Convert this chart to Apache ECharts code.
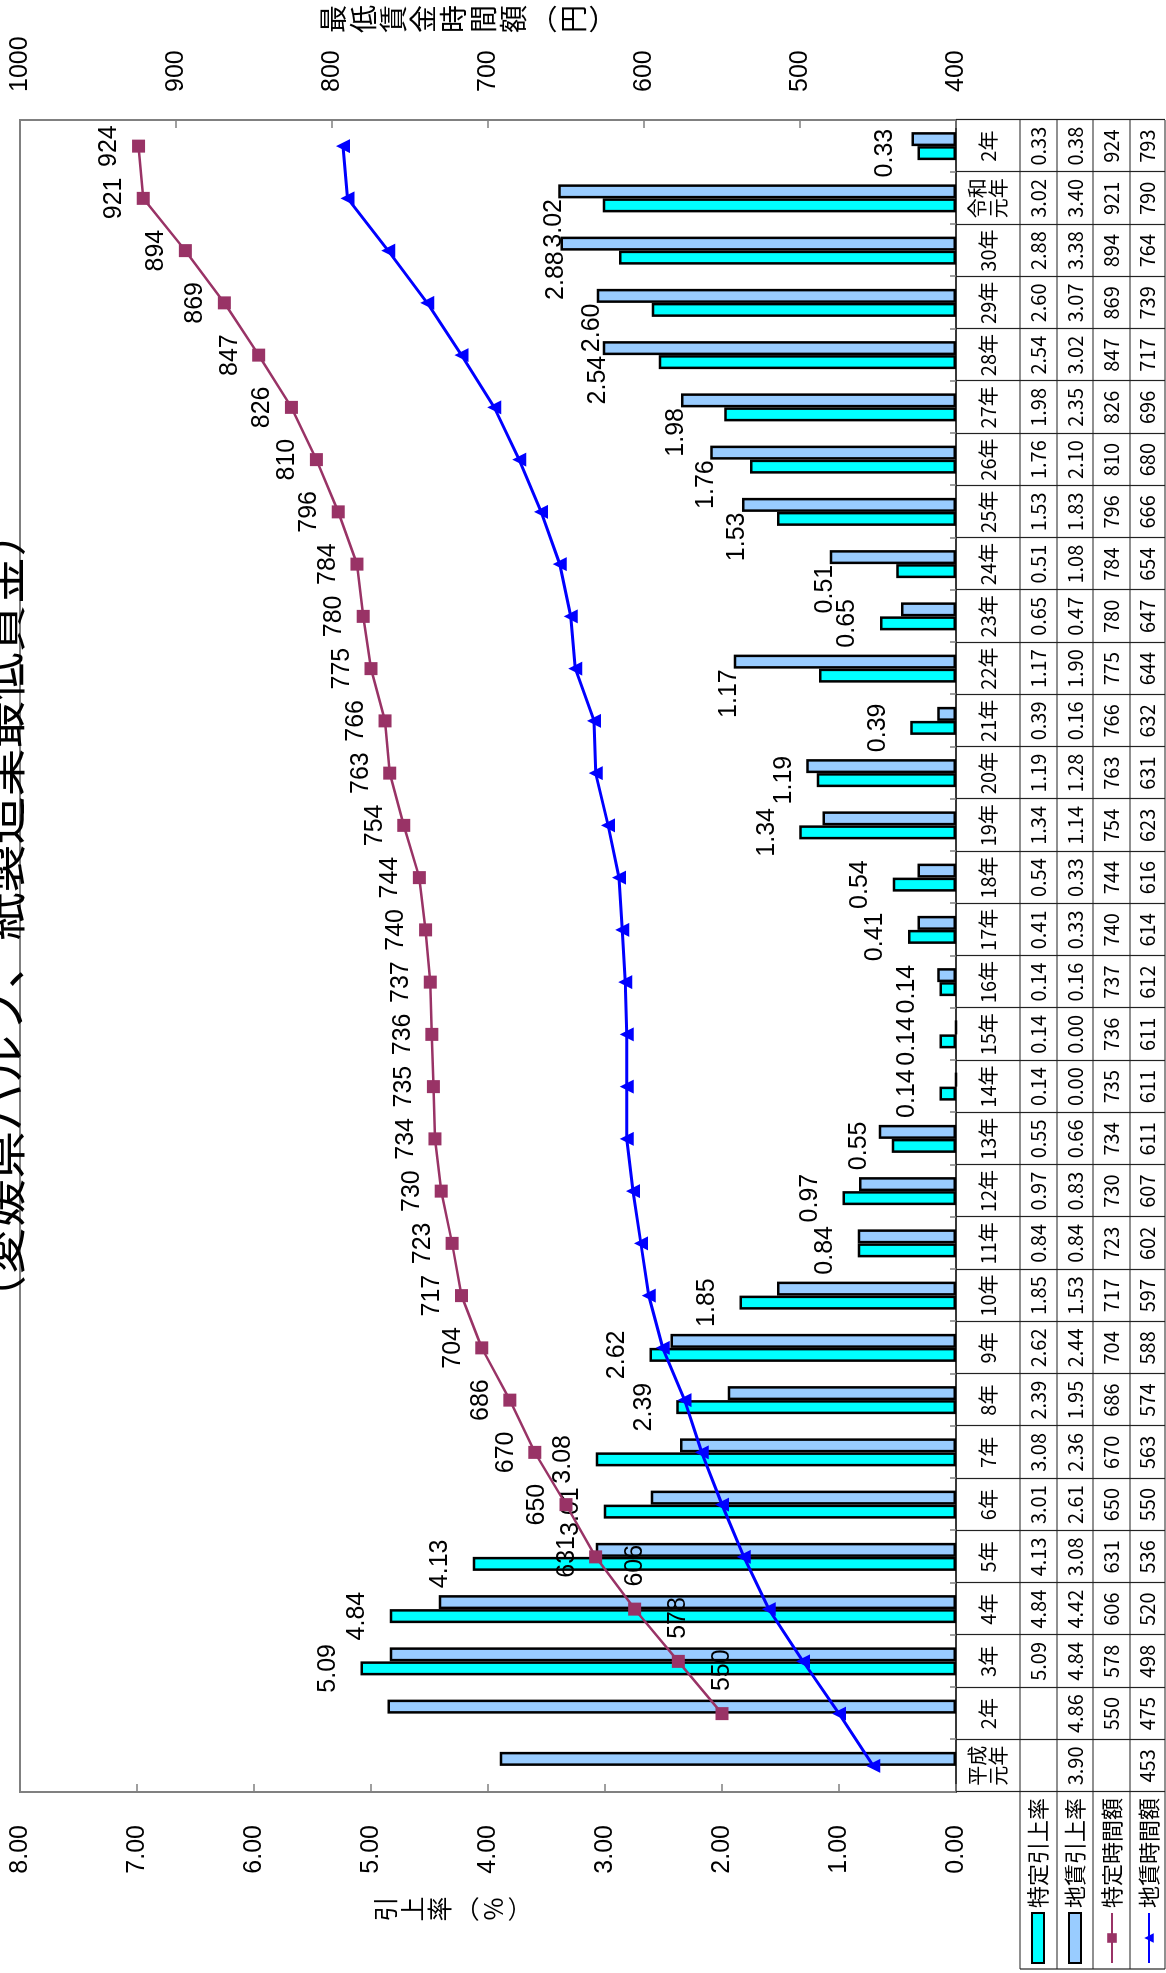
<!DOCTYPE html>
<html>
<head>
<meta charset="utf-8">
<script src="https://cdn.jsdelivr.net/npm/echarts@6/dist/echarts.min.js"></script>
<style>
html,body{margin:0;padding:0;width:1166px;height:1973px;overflow:hidden;background:#fff;}
#wrap{position:absolute;left:0;top:0;width:1973px;height:1166px;transform-origin:0 0;transform:translateY(1973px) rotate(-90deg);}
#chart{width:1973px;height:1166px;}
</style>
</head>
<body>
<div id="wrap"><div id="chart"></div></div>
<script>
// ---- data ----
const categories = ['平成\n元年','2年','3年','4年','5年','6年','7年','8年','9年','10年','11年','12年','13年','14年','15年','16年','17年','18年','19年','20年','21年','22年','23年','24年','25年','26年','27年','28年','29年','30年','令和\n元年','2年'];
const tokuteiRate = [null,null,5.09,4.84,4.13,3.01,3.08,2.39,2.62,1.85,0.84,0.97,0.55,0.14,0.14,0.14,0.41,0.54,1.34,1.19,0.39,1.17,0.65,0.51,1.53,1.76,1.98,2.54,2.60,2.88,3.02,0.33];
const chinRate = [3.90,4.86,4.84,4.42,3.08,2.61,2.36,1.95,2.44,1.53,0.84,0.83,0.66,0.00,0.00,0.16,0.33,0.33,1.14,1.28,0.16,1.90,0.47,1.08,1.83,2.10,2.35,3.02,3.07,3.38,3.40,0.38];
const tokuteiWage = [null,550,578,606,631,650,670,686,704,717,723,730,734,735,736,737,740,744,754,763,766,775,780,784,796,810,826,847,869,894,921,924];
const chinWage = [453,475,498,520,536,550,563,574,588,597,602,607,611,611,611,612,614,616,623,631,632,644,647,654,666,680,696,717,739,764,790,793];
const seriesNames = ['特定引上率','地賃引上率','特定時間額','地賃時間額'];
const leftTicks = [0,8,1];
const rightTicks = [400,1000,100];
const titleText = '（愛媛県パルプ、紙製造業最低賃金）';
const leftAxisName = '引上率︵%︶';
const rightAxisName = '最低賃金時間額︵円︶';

// ---- layout ----
const G = {left:181, top:20, width:1672, height:936};
const gridBottomY = G.top + G.height;
const rowEdges = [1020,1057,1093,1130,1165];
const pxPerUnit = G.height / (leftTicks[1]-leftTicks[0]);
const tableFont = "'Liberation Sans Narrow','Noto Sans CJK JP',sans-serif";
const labelFont = "'Liberation Sans',Arial,sans-serif";
const cjk = "'Noto Sans CJK JP',sans-serif";
const vertical = s => Array.from(s).join('\n');

const fmtRate = v => v == null ? '' : v.toFixed(2);
const fmtWage = v => v == null ? '' : String(v);
const rows = [tokuteiRate.map(fmtRate), chinRate.map(fmtRate), tokuteiWage.map(fmtWage), chinWage.map(fmtWage)];

const cyanData = tokuteiRate.map((v,i)=>{
  if (v == null) return null;
  const b = chinRate[i];
  if (b != null && b - v > 0.2) {
    return {value:v, label:{offset:[-18, -(b - v)*pxPerUnit + 28]}};
  }
  return v;
});
const magentaData = tokuteiWage.map((v,i)=>{
  if (v == null) return null;
  if (i >= 1 && i <= 3) return {value:v, label:{position:'right', distance:16}};
  return v;
});

const rowAxes = rows.map((r,ri)=>{
  const lo = rowEdges[ri], hi = rowEdges[ri+1];
  return {
    type:'category', gridIndex:0, position:'bottom', data:categories,
    axisLine:{show:false}, axisTick:{show:false}, splitLine:{show:false},
    axisLabel:{interval:0, margin:(lo+hi)/2 - gridBottomY, verticalAlign:'middle',
      fontSize:20, fontFamily:tableFont, color:'#000',
      formatter:(val, idx)=> r[idx]}
  };
});

const graphics = [];
rowEdges.forEach(y=>{
  graphics.push({type:'line', shape:{x1:4, y1:y, x2:G.left+G.width, y2:y}, style:{stroke:'#222', lineWidth:1.2}, silent:true});
});
graphics.push({type:'line', shape:{x1:4, y1:rowEdges[0], x2:4, y2:rowEdges[rowEdges.length-1]}, style:{stroke:'#222', lineWidth:1.2}, silent:true});
graphics.push({type:'text', x:64, y:453, silent:true,
  style:{text:vertical(leftAxisName), fontSize:25, lineHeight:27, fontFamily:cjk, fill:'#000', align:'center', verticalAlign:'middle'}});
graphics.push({type:'text', x:1954, y:468, silent:true,
  style:{text:vertical(rightAxisName), fontSize:28, lineHeight:30, fontFamily:cjk, fill:'#000', align:'center', verticalAlign:'middle'}});

const chart = echarts.init(document.getElementById('chart'), null, {renderer:'canvas'});
chart.setOption({
  animation:false,
  backgroundColor:'#fff',
  title:{text:titleText, left:645, top:-27,
    textStyle:{fontSize:48, fontWeight:'normal', fontFamily:cjk, color:'#000'}},
  grid:{left:G.left, top:G.top, width:G.width, height:G.height, containLabel:false, outerBoundsMode:'none',
    show:true, borderColor:'#808080', borderWidth:2, backgroundColor:'#fff'},
  legend:{orient:'vertical', left:9, top:1026, padding:0, itemWidth:50, itemHeight:12, itemGap:13,
    selectedMode:false,
    data:[{name:seriesNames[0], icon:'rect'}, {name:seriesNames[1], icon:'rect'}, {name:seriesNames[2]}, {name:seriesNames[3]}],
    textStyle:{fontSize:22, lineHeight:24, fontFamily:cjk, color:'#000'}},
  xAxis:[
    {type:'category', gridIndex:0, position:'bottom', data:categories,
      axisLine:{show:true, lineStyle:{color:'#222', width:1.5}},
      axisTick:{show:true, inside:false, length:rowEdges[rowEdges.length-1]-gridBottomY, lineStyle:{color:'#222', width:1.2}},
      axisLabel:{interval:0, margin:988-gridBottomY, verticalAlign:'middle', fontSize:20, lineHeight:21,
        fontFamily:tableFont, color:'#000'},
      splitLine:{show:false}},
    ...rowAxes,
    {type:'category', gridIndex:0, position:'bottom', data:categories,
      axisLine:{show:false}, axisLabel:{show:false}, splitLine:{show:false},
      axisTick:{show:true, inside:true, length:6, lineStyle:{color:'#808080', width:1.5}}}
  ],
  yAxis:[
    {type:'value', position:'left', min:leftTicks[0], max:leftTicks[1], interval:leftTicks[2],
      axisLine:{show:true, lineStyle:{color:'#808080', width:2}},
      axisTick:{show:true, inside:true, length:8, lineStyle:{color:'#808080', width:1.5}},
      axisLabel:{margin:33, fontSize:25, fontFamily:labelFont, color:'#000', formatter:v=>v.toFixed(2)},
      splitLine:{show:false}},
    {type:'value', position:'right', min:rightTicks[0], max:rightTicks[1], interval:rightTicks[2],
      axisLine:{show:true, lineStyle:{color:'#808080', width:2}},
      axisTick:{show:true, inside:true, length:8, lineStyle:{color:'#808080', width:1.5}},
      axisLabel:{margin:28, fontSize:25, fontFamily:labelFont, color:'#000', formatter:v=>String(v)},
      splitLine:{show:false}}
  ],
  graphic:graphics,
  series:[
    {name:seriesNames[0], type:'bar', xAxisIndex:0, yAxisIndex:0, data:cyanData,
      barWidth:14, barGap:'0%',
      itemStyle:{color:'#00FFFF', borderColor:'#000', borderWidth:2.5},
      label:{show:true, position:'top', distance:20, fontSize:25, fontFamily:labelFont, color:'#000',
        formatter:p=>p.value.toFixed(2)}},
    {name:seriesNames[1], type:'bar', xAxisIndex:0, yAxisIndex:0, data:chinRate,
      barWidth:14, barGap:'0%',
      itemStyle:{color:'#99CCFF', borderColor:'#000', borderWidth:2.5}},
    {name:seriesNames[2], type:'line', xAxisIndex:0, yAxisIndex:1, data:magentaData,
      symbol:'rect', symbolSize:13, connectNulls:false,
      lineStyle:{color:'#993366', width:2.5}, itemStyle:{color:'#993366'},
      label:{show:true, position:'top', distance:10, fontSize:25, fontFamily:labelFont, color:'#000'}},
    {name:seriesNames[3], type:'line', xAxisIndex:0, yAxisIndex:1, data:chinWage,
      symbol:'triangle', symbolSize:14,
      lineStyle:{color:'#0000FF', width:3}, itemStyle:{color:'#0000FF'}}
  ]
});
</script>
</body>
</html>
